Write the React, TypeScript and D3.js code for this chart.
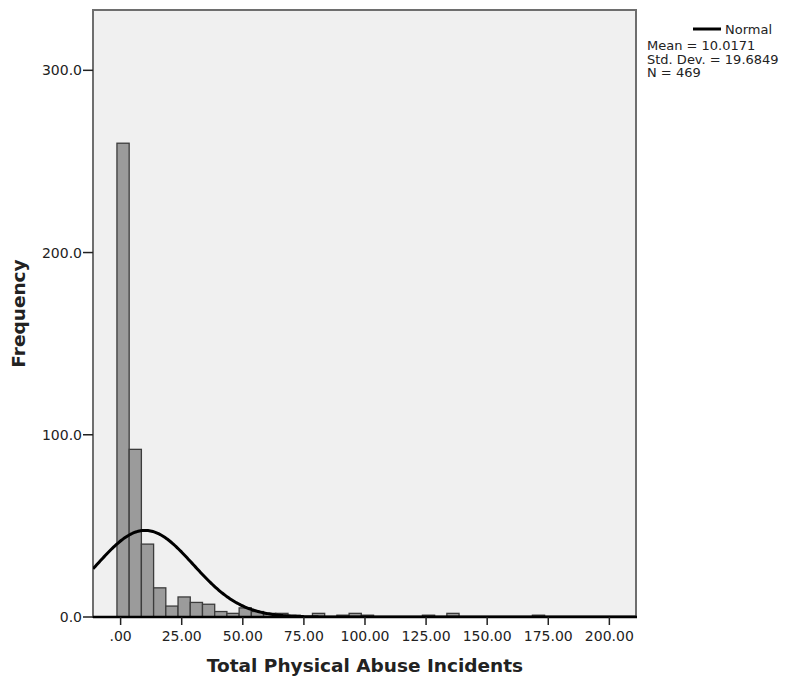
import React from "react";
import * as d3 from "d3";

// Histogram bins (start value of each 5-unit bin) and counts
const binStarts = [-1.5, 3.5, 8.5, 13.5, 18.5, 23.5, 28.5, 33.5, 38.5, 43.5, 48.5, 53.5, 58.5, 63.5, 68.5, 78.5, 88.5, 93.5, 98.5, 123.5, 133.5, 168.5];
const binCounts = [260, 92, 40, 16, 6, 11, 8, 7, 3, 2, 5, 3, 2, 2, 1, 2, 1, 2, 1, 1, 2, 1];
const binWidth = 5;

const xTicks = [0, 25, 50, 75, 100, 125, 150, 175, 200];
const xTickLabels = [".00", "25.00", "50.00", "75.00", "100.00", "125.00", "150.00", "175.00", "200.00"];
const yTicks = [0, 100, 200, 300];
const yTickLabels = ["0.0", "100.0", "200.0", "300.0"];

const mean = 10.0171;
const sd = 19.6849;
const n = 469;
const statLines = ["Mean = 10.0171", "Std. Dev. = 19.6849", "N = 469"];

const FONT = "'DejaVu Sans', 'Lucida Grande', sans-serif";

export default function App() {
  const W = 791, H = 679;
  const left = 93, right = 636, top = 10, bottom = 617;
  const x = d3.scaleLinear().domain([-11.3, 210.9]).range([left, right]);
  const y = d3.scaleLinear().domain([0, 333.1]).range([bottom, top]);

  const pdf = (v: number) =>
    (n * binWidth) / (sd * Math.sqrt(2 * Math.PI)) * Math.exp(-0.5 * ((v - mean) / sd) ** 2);
  const curvePts = d3.range(-11.3, 211, 0.5).map((v) => [v, pdf(v)] as [number, number]);
  const line = d3.line<[number, number]>().x((d) => x(d[0])).y((d) => y(d[1]));

  return (
    <svg width={W} height={H} style={{ position: "absolute", left: 0, top: 0, background: "#fff" }}>
      <defs>
        <clipPath id="plotclip">
          <rect x={left} y={top} width={right - left} height={bottom - top} />
        </clipPath>
      </defs>
      <rect x={left} y={top} width={right - left} height={bottom - top} fill="#f0f0f0" stroke="#6e6e6e" strokeWidth={2} />
      <g clipPath="url(#plotclip)">
        {binStarts.map((s, i) => (
          <rect
            key={i}
            x={x(s)}
            y={y(binCounts[i])}
            width={x(s + binWidth) - x(s)}
            height={y(0) - y(binCounts[i])}
            fill="#9b9b9b"
            stroke="#3c3c3c"
            strokeWidth={1.3}
          />
        ))}
        <path d={line(curvePts) || ""} fill="none" stroke="#000" strokeWidth={3} />
      </g>
      {/* x axis */}
      <line x1={left} x2={right + 1} y1={bottom} y2={bottom} stroke="#000" strokeWidth={2.5} />
      {xTicks.map((t, i) => (
        <g key={t}>
          <line x1={x(t)} x2={x(t)} y1={bottom} y2={bottom + 8} stroke="#222" strokeWidth={1.5} />
          <text x={x(t)} y={641} textAnchor="middle" fontFamily={FONT} fontSize={14} fill="#222">
            {xTickLabels[i]}
          </text>
        </g>
      ))}
      {/* y axis */}
      {yTicks.map((t, i) => (
        <g key={t}>
          <line x1={left - 10} x2={left} y1={y(t)} y2={y(t)} stroke="#222" strokeWidth={1.5} />
          <text x={left - 11} y={y(t) + 5} textAnchor="end" fontFamily={FONT} fontSize={14} fill="#222">
            {yTickLabels[i]}
          </text>
        </g>
      ))}
      <text
        transform={`translate(25,${(top + bottom) / 2}) rotate(-90)`}
        textAnchor="middle"
        fontFamily={FONT}
        fontSize={18.5}
        fontWeight="bold"
        fill="#222"
      >
        Frequency
      </text>
      <text x={365} y={672} textAnchor="middle" fontFamily={FONT} fontSize={18.5} fontWeight="bold" fill="#222">
        Total Physical Abuse Incidents
      </text>
      {/* legend */}
      <line x1={693} x2={721} y1={29} y2={29} stroke="#000" strokeWidth={3} />
      <text x={725} y={34} fontFamily={FONT} fontSize={13} fill="#222">Normal</text>
      {statLines.map((s, i) => (
        <text key={s} x={647} y={50 + i * 13.5} fontFamily={FONT} fontSize={13} fill="#222">
          {s}
        </text>
      ))}
    </svg>
  );
}
